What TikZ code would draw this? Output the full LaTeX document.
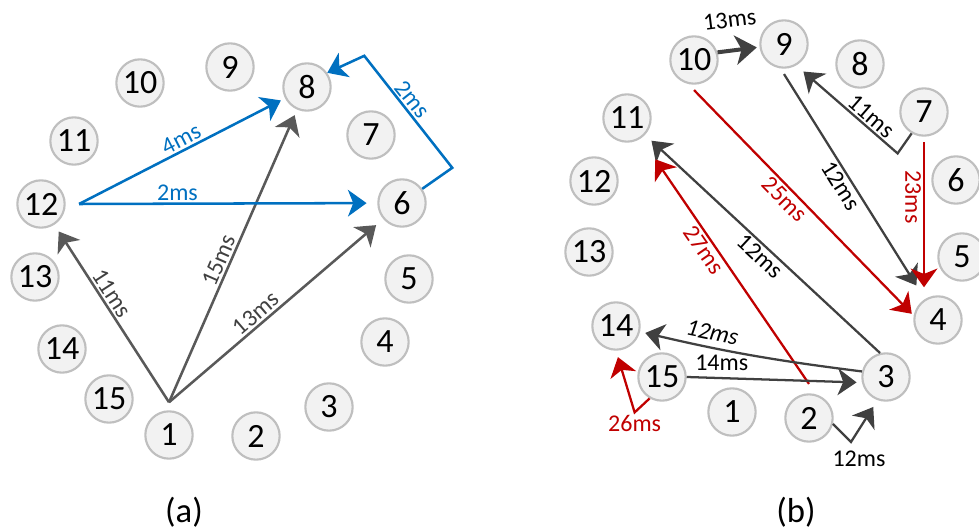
\documentclass[tikz,border=0pt]{standalone}
\usepackage{fontspec}
\setmainfont{Carlito}
\usetikzlibrary{arrows.meta}

\definecolor{peerfill}{HTML}{F2F2F2}
\definecolor{peerline}{HTML}{BFBFBF}
\definecolor{linkgray}{HTML}{595959}
\definecolor{linkdark}{HTML}{404040}
\definecolor{linkblue}{HTML}{0070C0}
\definecolor{linkred}{HTML}{C00000}

\begin{document}
\begin{tikzpicture}[x=0.75pt,y=-0.75pt,>={Stealth[length=14pt,width=20pt,inset=4pt]}]
  \tikzset{
    peer/.style={circle,draw=peerline,fill=peerfill,line width=1.6pt,minimum size=35.5pt,inner sep=0pt,font=\fontsize{25.5}{25.5}\selectfont},
    grayln/.style={->,line width=1.9pt,linkgray},
    blueln/.style={->,line width=1.9pt,linkblue},
    darkln/.style={->,line width=1.7pt,linkdark},
    redln/.style={->,line width=1.7pt,linkred},
    thickln/.style={-{Stealth[length=16pt,width=22pt,inset=4.5pt]},line width=3pt,linkdark},
    ms/.style={font=\fontsize{18}{18}\selectfont,inner sep=1.5pt},
    msb/.style={ms,text=black},
    msit/.style={msb,font=\fontsize{18}{18}\selectfont\itshape},
    caption/.style={font=\fontsize{26}{26}\selectfont}
  }
  \useasboundingbox (0,0) rectangle (979,530);

  % (a): the ring of peers, node 1 and node 12 send
  \node[peer] (a1) at (169,435) {1};
  \node[peer] (a2) at (256,436) {2};
  \node[peer] (a3) at (329,407) {3};
  \node[peer] (a4) at (385,342) {4};
  \node[peer] (a5) at (409,279) {5};
  \node[peer] (a6) at (402,203) {6};
  \node[peer] (a7) at (371,135) {7};
  \node[peer] (a8) at (307,87) {8};
  \node[peer] (a9) at (230,67) {9};
  \node[peer] (a10) at (140,83) {10};
  \node[peer] (a11) at (74,141) {11};
  \node[peer] (a12) at (41,204) {12};
  \node[peer] (a13) at (35,277) {13};
  \node[peer] (a14) at (62,349) {14};
  \node[peer] (a15) at (109,399) {15};
  \node[caption] (capa) at (184,512) {(a)};

  \coordinate (a1s) at ([yshift=6pt]a1.north);
  \coordinate (a12s) at ([xshift=10pt]a12.east);
  \draw[grayln,shorten >=6pt] (a1s) -- (a12) node[ms,pos=0.58,sloped,above,text=linkdark] {11ms};
  \draw[grayln,shorten >=4.5pt] (a1s) -- (a8) node[ms,pos=0.47,sloped,above,text=linkdark] {15ms};
  \draw[grayln,shorten >=7pt] (a1s) -- (a6) node[ms,pos=0.44,sloped,above,text=linkdark] {13ms};
  \draw[blueln,shorten >=3.5pt] (a12s) -- (a8) node[ms,pos=0.52,sloped,above,text=linkblue] {4ms};
  \draw[blueln,shorten >=8pt] (a12s) -- (a6) node[ms,pos=0.33,above,text=linkblue] {2ms};
  \draw[blueln] (a6.35) -- ++(30,-21) -- ++(-88,-112) node[ms,pos=0.55,sloped,above,text=linkblue] {2ms} -- (a8.35);

  % (b): same ring, the slow paths in red
  \node[peer] (b1) at (732,412) {1};
  \node[peer] (b2) at (809,418) {2};
  \node[peer] (b3) at (886,377) {3};
  \node[peer] (b4) at (938,320) {4};
  \node[peer] (b5) at (962,257) {5};
  \node[peer] (b6) at (956,180) {6};
  \node[peer] (b7) at (924,112) {7};
  \node[peer] (b8) at (860,64) {8};
  \node[peer] (b9) at (784,44) {9};
  \node[peer] (b10) at (694,60) {10};
  \node[peer] (b11) at (627,118) {11};
  \node[peer] (b12) at (594,181) {12};
  \node[peer] (b13) at (589,252) {13};
  \node[peer] (b14) at (616,326) {14};
  \node[peer] (b15) at (662,377) {15};
  \node[caption] (capb) at (796,512) {(b)};

  \draw[thickln,shorten >=2pt] (b10.18) -- (b9) node[msb,pos=0.38,sloped,above=14pt] {13ms};
  \draw[darkln,shorten >=12pt] ([yshift=-4pt]b9.south) -- (b4) node[msb,pos=0.47,sloped,below] {12ms};
  \draw[darkln,shorten >=7pt] (b7.240) -- ++(-14,20) -- (b9.300) node[msb,pos=0.33,sloped,above] {11ms};
  \draw[redln,shorten <=4pt,shorten >=6pt] (b7.south) -- (b7.south |- b4.north) node[ms,pos=0.38,rotate=-90,anchor=north,text=linkred] {23ms};
  \draw[redln,shorten >=2pt] ([yshift=-4pt]b10.south) -- (b4.170) node[ms,pos=0.45,sloped,below,text=linkred] {25ms};
  \draw[darkln,shorten >=6.5pt] (b3.104) -- (b11) node[msb,pos=0.48,sloped,below] {12ms};
  \draw[redln,shorten >=19pt] ([yshift=7pt]b2.north) -- (b11) node[ms,pos=0.57,sloped,below,text=linkred] {27ms};
  \draw[darkln,shorten >=4pt] (b3.167) to[bend left=3] node[msit,pos=0.7,sloped,above=3pt] {12ms} (b14);
  \draw[darkln,shorten >=4pt] (b15.east) -- (b3.193) node[msb,pos=0.2,above=3pt] {14ms};
  \draw[redln,shorten >=5pt] (b15.240) -- ++(-15,14) node[ms,below,text=linkred] {26ms} -- (b14.south);
  \draw[darkln,shorten >=6pt] (b2.346) -- ++(18,18) node[msb,below=4pt,xshift=6pt] {12ms} -- (b3.250);
\end{tikzpicture}
\end{document}
